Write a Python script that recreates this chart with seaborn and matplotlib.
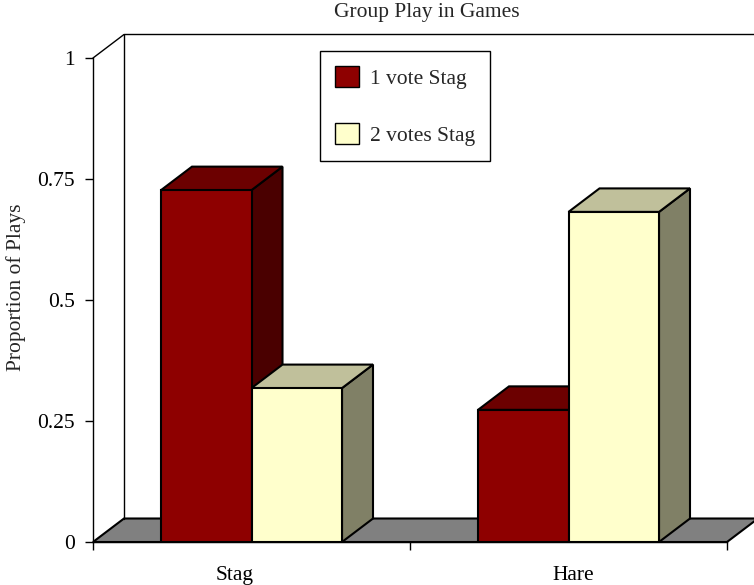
import matplotlib
matplotlib.use("Agg")
import matplotlib.pyplot as plt
from matplotlib.patches import Polygon, Patch, Rectangle
from matplotlib.transforms import ScaledTranslation
from matplotlib.colors import to_rgba
import pandas as pd
import seaborn as sns

# ---- data ----
choices = ["Stag", "Hare"]
groups = ["1 vote Stag", "2 votes Stag"]
one_vote_stag = [0.727, 0.273]
two_votes_stag = [0.318, 0.682]
y_ticks = [0, 0.25, 0.5, 0.75, 1]
y_tick_labels = ["0", "0.25", "0.5", "0.75", "1"]

# ---- styling ----
front_colors = ["#8e0000", "#ffffcc"]
top_colors = ["#6c0000", "#c0c09b"]
side_colors = ["#4a0000", "#808066"]
floor_color = "#808080"
fs = 15.5

df = pd.DataFrame({
    "choice": choices * 2,
    "group": [groups[0]] * len(choices) + [groups[1]] * len(choices),
    "proportion": one_vote_stag + two_votes_stag,
})

sns.set_style("white")
plt.rcParams["font.family"] = ["Liberation Serif", "DejaVu Serif"]
plt.rcParams["font.size"] = fs

W, H = 754, 585
fig = plt.figure(figsize=(W / 100, H / 100), dpi=100)

# plot box in pixels: front-left floor corner and back-wall top
x0_px, y0_px, top_px = 93, 542, 34
cat_px = 317      # pixels per category
unit_px = 484     # pixels for a proportion of 1
ax = fig.add_axes([x0_px / W, (H - y0_px) / H, (W - x0_px) / W, (y0_px - top_px) / H])

sns.barplot(data=df, x="choice", y="proportion", hue="group",
            order=choices, hue_order=groups, palette=front_colors,
            width=0.571, gap=0, saturation=1, edgecolor="black",
            linewidth=1.5, legend=False, ax=ax)

bars = sorted([p for p in ax.patches if isinstance(p, Rectangle)],
              key=lambda p: p.get_x())

ax.set_xlim(-0.5, -0.5 + (W - x0_px) / cat_px)
ax.set_ylim(0, (y0_px - top_px) / unit_px)
ax.set_xlabel("")
ax.set_ylabel("")

# depth of the 3-D box in data units
dx = 31 / cat_px
dy = 23.5 / unit_px

# floor
floor = Polygon([(-0.5, 0), (1.5, 0), (1.5 + dx, dy), (-0.5 + dx, dy)],
                closed=True, facecolor=floor_color, edgecolor="black",
                linewidth=1.5, zorder=1, clip_on=False)
ax.add_patch(floor)

# back wall and side wall edges
ax.plot([-0.5 + dx, -0.5 + dx, 1.5 + dx], [dy, 1 + dy, 1 + dy],
        color="black", linewidth=1, zorder=1.5, clip_on=False)
ax.plot([-0.5, -0.5 + dx], [1, 1 + dy], color="black", linewidth=1,
        zorder=1.5, clip_on=False)

# extrude each bar: top and right side faces
front_rgba = [to_rgba(c) for c in front_colors]
for rank, p in enumerate(bars):
    fc = p.get_facecolor()
    k = min(range(len(front_rgba)),
            key=lambda i: sum((a - b) ** 2 for a, b in zip(front_rgba[i], fc)))
    x, w, h = p.get_x(), p.get_width(), p.get_height()
    z = 3 + rank * 0.1
    top = Polygon([(x, h), (x + w, h), (x + w + dx, h + dy), (x + dx, h + dy)],
                  closed=True, facecolor=top_colors[k], edgecolor="black",
                  linewidth=1.5, zorder=z, clip_on=False)
    side = Polygon([(x + w, 0), (x + w + dx, dy), (x + w + dx, h + dy), (x + w, h)],
                   closed=True, facecolor=side_colors[k], edgecolor="black",
                   linewidth=1.5, zorder=z, clip_on=False)
    ax.add_patch(side)
    ax.add_patch(top)
    p.set_zorder(z + 0.02)

# axes lines and ticks
for s in ("top", "right"):
    ax.spines[s].set_visible(False)
ax.spines["left"].set_bounds(0, 1)
ax.spines["bottom"].set_bounds(-0.5, 1.5)
for s in ("left", "bottom"):
    ax.spines[s].set_color("black")
    ax.spines[s].set_linewidth(1)
    ax.spines[s].set_zorder(2.5)

ax.set_yticks(y_ticks, y_tick_labels)
ax.tick_params(axis="y", left=True, direction="out", length=6, width=1,
               pad=7, labelsize=fs, color="black", labelcolor="black")
ax.set_xticks(range(len(choices)), choices)
ax.set_xticks([-0.5, 0.5, 1.5], minor=True)
ax.tick_params(axis="x", which="major", length=0, pad=17, labelsize=fs,
               labelcolor="black")
ax.tick_params(axis="x", which="minor", bottom=True, direction="out",
               length=6, width=1, color="black")

label_shift_px = [-17, 5]
for lbl, off in zip(ax.get_xticklabels(), label_shift_px):
    lbl.set_transform(lbl.get_transform() +
                      ScaledTranslation(off / 100, 0, fig.dpi_scale_trans))

# legend
handles = [Patch(facecolor=c, edgecolor="black", linewidth=1, label=g)
           for c, g in zip(front_colors, groups)]
leg = ax.legend(handles=handles, loc="upper left",
                bbox_to_anchor=(320 / W, 1 - 51 / H),
                bbox_transform=fig.transFigure, borderaxespad=0,
                frameon=True, fancybox=False, framealpha=1,
                edgecolor="black", handlelength=1.1, handleheight=1.1,
                handletextpad=0.5, labelspacing=1.6, borderpad=0.7,
                fontsize=fs)
leg.get_frame().set_linewidth(1)
leg.set_zorder(10)

fig.text(426.5 / W, 1 - 13 / H, "Group Play in Games", ha="center",
         va="center", fontsize=fs)
fig.text(16 / W, 1 - 287 / H, "Proportion of Plays", ha="center",
         va="center", rotation=90, fontsize=fs)

fig.savefig("out.png", dpi=100)
